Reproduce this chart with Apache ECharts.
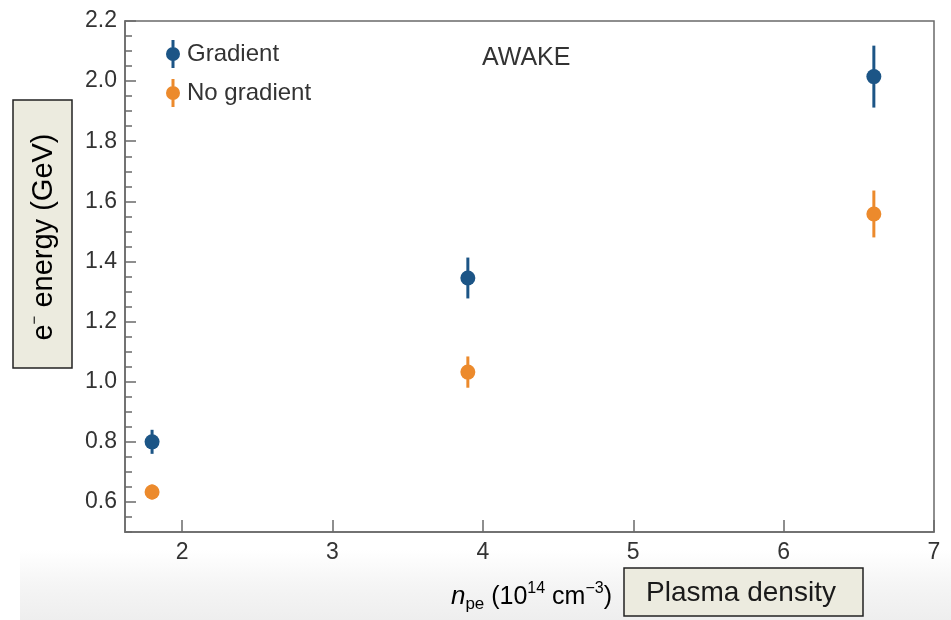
<!DOCTYPE html>
<html>
<head>
<meta charset="utf-8">
<script src="https://cdn.jsdelivr.net/npm/echarts@6/dist/echarts.min.js"></script>
<style>
  html, body { margin: 0; padding: 0; background: #fff; }
  #chart { width: 951px; height: 620px; }
</style>
</head>
<body>
<div id="chart"></div>
<script>
// plasma density (1e14 cm^-3)
const density = [1.8, 3.9, 6.6]
// electron energy (GeV) and error bars
const gradientEnergy = [0.80, 1.345, 2.015]
const gradientErr = [0.04, 0.068, 0.103]
const noGradientEnergy = [0.633, 1.032, 1.558]
const noGradientErr = [0.025, 0.052, 0.078]

const blue = '#1c5586'
const orange = '#ec8a2c'
const font = '"Liberation Sans", Arial, sans-serif'
const legendIcon = 'path://M5.5,0 L8.5,0 L8.5,9 L5.5,9 Z M5.5,19 L8.5,19 L8.5,28 L5.5,28 Z M0,14 A7,7 0 1 1 14,14 A7,7 0 1 1 0,14 Z'

function toRows(ys, errs) {
  return density.map((x, i) => [x, ys[i], errs[i]])
}

function renderErr(params, api) {
  const x = api.value(0), y = api.value(1), e = api.value(2)
  const lo = api.coord([x, y - e])
  const hi = api.coord([x, y + e])
  const c = api.coord([x, y])
  const color = api.visual('color')
  return {
    type: 'group',
    children: [
      {type: 'line', shape: {x1: lo[0], y1: lo[1], x2: hi[0], y2: hi[1]}, style: {stroke: color, lineWidth: 3}},
      {type: 'circle', shape: {cx: c[0], cy: c[1], r: 7.5}, style: {fill: color}}
    ]
  }
}

const chart = echarts.init(document.getElementById('chart'))

chart.setOption({
  backgroundColor: '#fff',
  animation: false,
  textStyle: {fontFamily: font},
  title: {
    text: 'AWAKE',
    left: 477, top: 41,
    textStyle: {fontSize: 25, fontWeight: 'normal', color: '#333', fontFamily: font}
  },
  legend: {
    orient: 'vertical',
    left: 161, top: 35,
    itemWidth: 14, itemHeight: 28,
    itemGap: 11,
    textStyle: {fontSize: 24, color: '#333', fontFamily: font, padding: [0, 0, 0, 2]},
    data: [
      {name: 'Gradient', icon: legendIcon},
      {name: 'No gradient', icon: legendIcon}
    ]
  },
  grid: {
    left: 125, top: 21, right: 17, bottom: 88,
    show: true, borderColor: '#6a6a6a', borderWidth: 1.5
  },
  xAxis: {
    type: 'value',
    min: 1.62, max: 7, splitNumber: 5,
    axisLine: {lineStyle: {color: '#6a6a6a', width: 1.5}},
    axisTick: {inside: true, length: 12, lineStyle: {color: '#6a6a6a', width: 1.5}},
    axisLabel: {showMinLabel: false, fontSize: 23, color: '#333', margin: 9, fontFamily: font},
    splitLine: {show: false}
  },
  yAxis: [
    {
      type: 'value',
      min: 0.5, max: 2.2, splitNumber: 8,
      axisLine: {show: true, lineStyle: {color: '#6a6a6a', width: 1.5}},
      axisTick: {show: true, inside: true, length: 11, lineStyle: {color: '#6a6a6a', width: 1.5}},
      axisLabel: {
        showMinLabel: false, fontSize: 23, color: '#333', margin: 8, fontFamily: font,
        formatter: v => v.toFixed(1)
      },
      splitLine: {show: false}
    },
    {
      // minor ticks every 0.05
      type: 'value',
      position: 'left',
      min: 0.5, max: 2.2, interval: 0.05,
      axisLine: {show: false},
      axisTick: {show: true, inside: true, length: 7, lineStyle: {color: '#6a6a6a', width: 1.5}},
      axisLabel: {show: false},
      splitLine: {show: false}
    }
  ],
  series: [
    {
      name: 'Gradient',
      type: 'custom',
      renderItem: renderErr,
      itemStyle: {color: blue},
      encode: {x: 0, y: 1},
      data: toRows(gradientEnergy, gradientErr),
      z: 3
    },
    {
      name: 'No gradient',
      type: 'custom',
      renderItem: renderErr,
      itemStyle: {color: orange},
      encode: {x: 0, y: 1},
      data: toRows(noGradientEnergy, noGradientErr),
      z: 3
    }
  ],
  graphic: [
    {
      type: 'rect', z: -10, silent: true,
      shape: {x: 20, y: 550, width: 931, height: 70},
      style: {
        fill: new echarts.graphic.LinearGradient(0, 0, 0, 1, [
          {offset: 0, color: '#ffffff'},
          {offset: 0.5, color: '#f5f5f5'},
          {offset: 1, color: '#eeeeee'}
        ])
      }
    },
    {
      type: 'rect', z: 10,
      shape: {x: 13, y: 100, width: 59, height: 268},
      style: {fill: '#ecebdf', stroke: '#222', lineWidth: 1.5}
    },
    {
      type: 'text', z: 11,
      x: 44, y: 237, rotation: Math.PI / 2,
      style: {
        text: '{a|e}{s|−}{a| energy (GeV)}',
        align: 'center', verticalAlign: 'middle',
        rich: {
          a: {fontSize: 29, fontFamily: font, color: '#222', lineHeight: 34, verticalAlign: 'middle'},
          s: {fontSize: 15, fontFamily: font, color: '#222', lineHeight: 34, verticalAlign: 'top'}
        }
      }
    },
    {
      type: 'text', z: 11,
      x: 612, y: 597,
      style: {
        text: '{i|n}{sub|pe}{t| (10}{sup|14}{t| cm}{sup|−3}{t|)}',
        align: 'right', verticalAlign: 'middle',
        rich: {
          i: {fontSize: 26, fontStyle: 'italic', fontFamily: font, color: '#333', lineHeight: 32, verticalAlign: 'middle'},
          t: {fontSize: 25, fontFamily: font, color: '#333', lineHeight: 32, verticalAlign: 'middle'},
          sub: {fontSize: 17, fontFamily: font, color: '#333', lineHeight: 32, verticalAlign: 'bottom'},
          sup: {fontSize: 16, fontFamily: font, color: '#333', lineHeight: 32, verticalAlign: 'top'}
        }
      }
    },
    {
      type: 'rect', z: 10,
      shape: {x: 624, y: 568, width: 239, height: 48},
      style: {fill: '#ecebdf', stroke: '#222', lineWidth: 1.5}
    },
    {
      type: 'text', z: 11,
      x: 741, y: 593,
      style: {
        text: 'Plasma density',
        align: 'center', verticalAlign: 'middle',
        fontSize: 28, fontFamily: font, fill: '#1a1a1a'
      }
    }
  ]
})
</script>
</body>
</html>
